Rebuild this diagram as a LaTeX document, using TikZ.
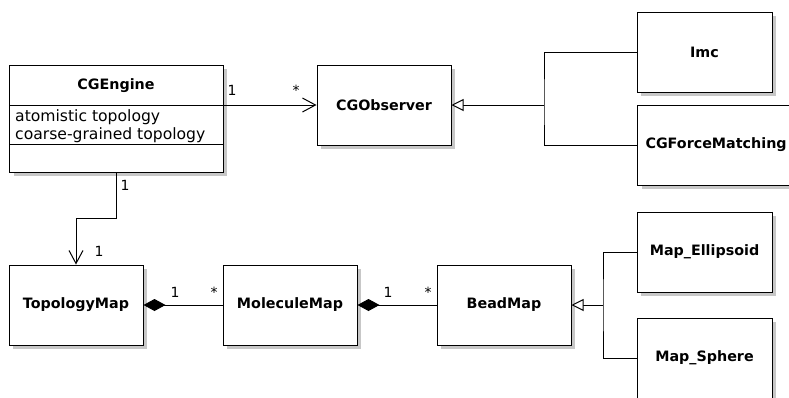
\documentclass[tikz,border=0pt]{standalone}
\usepackage{fontspec}
\setmainfont{DejaVu Sans}
\usetikzlibrary{arrows.meta,shadows}
\begin{document}
\begin{tikzpicture}[x=1pt,y=-1pt,
  cls/.style={draw, line width=1pt, fill=white,
    drop shadow={shadow xshift=4pt, shadow yshift=-4pt, fill=black!22, opacity=1},
    minimum width=134pt, minimum height=80pt, inner sep=0pt,
    font=\fontsize{14.3}{16}\selectfont\bfseries},
  conn/.style={line width=1pt},
  assoc/.style={conn, -{Straight Barb[length=13pt,width=14pt]}},
  inherit/.style={conn, -{Triangle[open,fill=white,length=12pt,width=12pt]}},
  comp/.style={conn, -{Diamond[length=22pt,width=12pt]}},
  mult/.style={font=\fontsize{14}{16}\selectfont, anchor=base, inner sep=0pt},
  attr/.style={font=\fontsize{15.6}{18}\selectfont, anchor=base west, inner sep=0pt},
]
\useasboundingbox (0,0) rectangle (789,397);
\clip (0,0) rectangle (789,397);

% classes
\node[cls, minimum width=213.5pt, minimum height=107pt] (eng) at (116.25,118.5) {};
\node[font=\fontsize{14.3}{16}\selectfont\bfseries, inner sep=0pt] (engname) at (116,86) {CGEngine};
\draw[conn] ([yshift=13.5pt]eng.west) -- ([yshift=13.5pt]eng.east);
\draw[conn] ([yshift=-25.5pt]eng.west) -- ([yshift=-25.5pt]eng.east);
\node[attr] (attr1) at (15,121) {atomistic topology};
\node[attr] (attr2) at (15,139) {coarse-grained topology};

\node[cls] (obs) at (384,105) {CGObserver};
\node[cls, minimum width=135pt] (imc) at (704.5,52) {Imc};
\node[cls, minimum width=0pt, text width=144pt, inner xsep=8pt, align=left, anchor=west] (fm) at (637,145) {CGForceMatching};

\node[cls] (topo) at (76,305) {TopologyMap};
\node[cls] (mol) at (290,305) {MoleculeMap};
\node[cls] (bead) at (504,305) {BeadMap};
\node[cls, minimum width=135pt] (ell) at (704.5,252) {Map\_Ellipsoid};
\node[cls, minimum width=135pt] (sph) at (704.5,358) {Map\_Sphere};

% associations
\draw[assoc] (obs.west -| eng.east) -- (obs.west);
\node[mult] (m1) at (232,95) {1};
\node[mult] (m2) at (296,95) {*};

\draw[assoc] (eng.south) -- ++(0,46) -| (topo.north);
\node[mult] (m3) at (125,190) {1};
\node[mult] (m4) at (99,256) {1};

% compositions
\draw[comp] (mol.west) -- (topo.east);
\node[mult] (m5) at (175,297) {1};
\node[mult] (m6) at (214,297) {*};
\draw[comp] (bead.west) -- (mol.east);
\node[mult] (m7) at (388,297) {1};
\node[mult] (m8) at (428,297) {*};

% generalisations
\coordinate (j1) at (544,105);
\draw[conn] (imc.west) -| (j1) |- (fm.west);
\draw[inherit] (j1) -- (obs.east);
\coordinate (j2) at (603,305);
\draw[conn] (ell.west) -| (j2) |- (sph.west);
\draw[inherit] (j2) -- (bead.east);
\end{tikzpicture}
\end{document}
